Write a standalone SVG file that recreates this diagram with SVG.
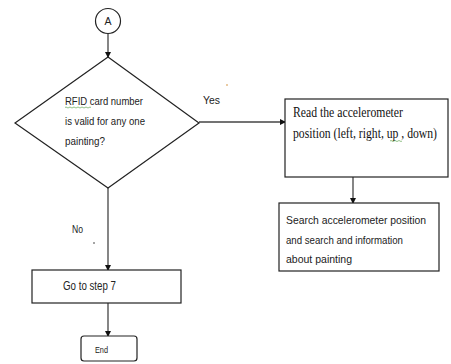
<svg xmlns="http://www.w3.org/2000/svg" width="451" height="364" viewBox="0 0 451 364">
<style>
.shape{fill:#fff;stroke:#222;stroke-width:1.2}
.conn{stroke:#444;stroke-width:1.3;fill:none}
.sans{font-family:"Liberation Sans",Arial,sans-serif;fill:#222}
.serif{font-family:"Liberation Serif","Times New Roman",serif;fill:#111}
</style>
<defs>
<marker id="ah" markerWidth="6" markerHeight="6" refX="5" refY="3" orient="auto" markerUnits="userSpaceOnUse">
<path d="M0,0 L6,3 L0,6 Z" fill="#111"/>
</marker>
</defs>
<rect width="451" height="364" fill="#fff"/>
<g id="connectors">
<line class="conn" x1="108" y1="34" x2="108" y2="57" marker-end="url(#ah)"/>
<line class="conn" x1="199" y1="122" x2="285" y2="122" marker-end="url(#ah)"/>
<line class="conn" x1="353" y1="177" x2="353" y2="203" marker-end="url(#ah)"/>
<line class="conn" x1="108" y1="188" x2="108" y2="270" marker-end="url(#ah)"/>
<line class="conn" x1="108" y1="303" x2="108" y2="336" marker-end="url(#ah)"/>
<text class="sans" x="203" y="104" font-size="11" textLength="17" lengthAdjust="spacingAndGlyphs">Yes</text>
<text class="sans" x="72" y="233" font-size="11" textLength="11" lengthAdjust="spacingAndGlyphs">No</text>
<circle cx="227" cy="85" r="0.8" fill="#d08a30"/>
<circle cx="94" cy="243" r="0.8" fill="#333"/>
</g>
<g id="nodeA">
<circle class="shape" cx="108" cy="21" r="12.5"/>
<text class="sans" x="108" y="25" font-size="10.5" text-anchor="middle">A</text>
</g>
<g id="decision">
<polygon class="shape" points="108,57 199,123 108,188 15,123"/>
<text class="sans" x="65" y="105" font-size="11" textLength="78" lengthAdjust="spacingAndGlyphs">RFID  card number</text>
<path d="M65,107.5 q1,-1 2,0 t2,0 t2,0 t2,0 t2,0 t2,0 t2,0 t2,0 t2,0 t2,0 t2,0 t2,0 t2,0" stroke="#4a9a3a" stroke-width="0.6" fill="none"/>
<text class="sans" x="65" y="125" font-size="11" textLength="80" lengthAdjust="spacingAndGlyphs">is valid for any one</text>
<text class="sans" x="65" y="145" font-size="11" textLength="40" lengthAdjust="spacingAndGlyphs">painting?</text>
</g>
<g id="readAccel">
<rect class="shape" x="285" y="99" width="163" height="78"/>
<g transform="scale(0.76,1)">
<text class="serif" x="385.5" y="117" font-size="14" textLength="144.7" lengthAdjust="spacingAndGlyphs">Read the accelerometer</text>
<text class="serif" x="385.5" y="138" font-size="14" textLength="189.5" lengthAdjust="spacingAndGlyphs">position (left, right, up , down)</text>
</g>
<path d="M390,141 q1,-1 2,0 t2,0 t2,0 t2,0 t2,0 t2,0" stroke="#4a9a3a" stroke-width="0.6" fill="none"/>
</g>
<g id="searchAccel">
<rect class="shape" x="279" y="203" width="160" height="68"/>
<text class="sans" x="286" y="224" font-size="11.5" textLength="140" lengthAdjust="spacingAndGlyphs">Search accelerometer position</text>
<text class="sans" x="286" y="244" font-size="11.5" textLength="117" lengthAdjust="spacingAndGlyphs">and search and information</text>
<text class="sans" x="286" y="263" font-size="11.5" textLength="66" lengthAdjust="spacingAndGlyphs">about painting</text>
</g>
<g id="goStep7">
<rect class="shape" x="32" y="270" width="149" height="33"/>
<text class="sans" x="63" y="290" font-size="12" textLength="53" lengthAdjust="spacingAndGlyphs">Go to step 7</text>
</g>
<g id="end">
<rect class="shape" x="81" y="336" width="56" height="25" rx="3"/>
<text class="sans" x="95" y="353" font-size="8.5" textLength="13" lengthAdjust="spacingAndGlyphs">End</text>
</g>
</svg>
